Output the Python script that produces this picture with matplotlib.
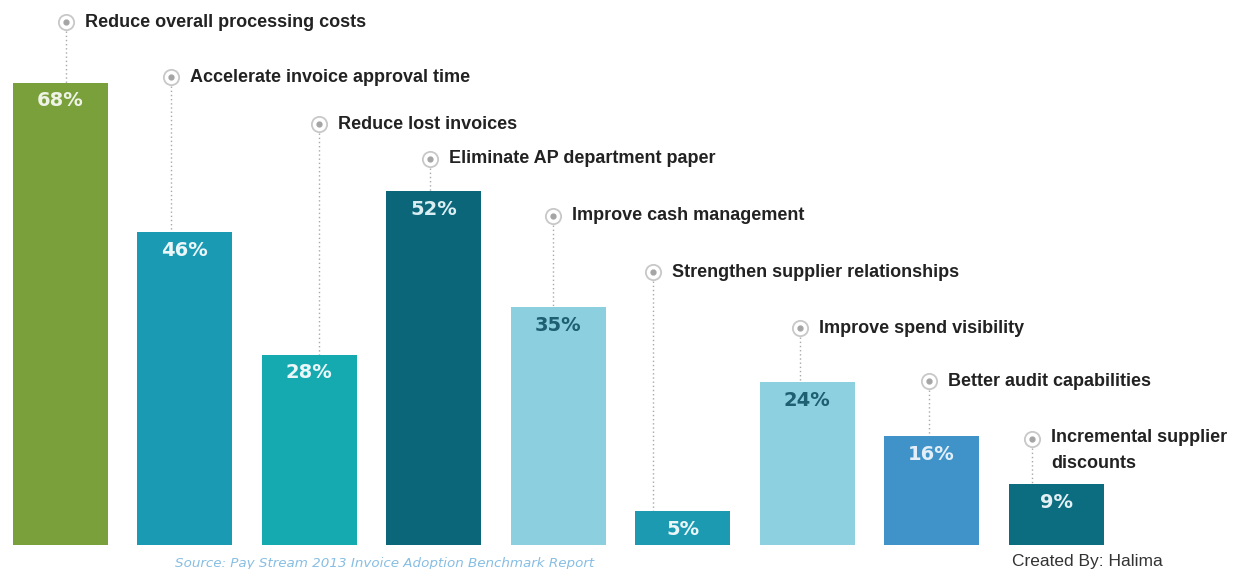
import matplotlib.pyplot as plt

# data
reasons = ["Reduce overall processing costs",
           "Accelerate invoice approval time",
           "Reduce lost invoices",
           "Eliminate AP department paper",
           "Improve cash management",
           "Strengthen supplier relationships",
           "Improve spend visibility",
           "Better audit capabilities",
           "Incremental supplier\ndiscounts"]
values = [68, 46, 28, 52, 35, 5, 24, 16, 9]
colors = ["#7aa03c", "#1a9bb3", "#15aab0", "#0b6679", "#8ccfdf",
          "#1b9ab2", "#8dd0e0", "#3f93c8", "#0d6d80"]
value_colors = ["#eef3e6", "#eaf6f8", "#eaf6f8", "#d9eef2", "#1e5f72",
                "#eaf6f8", "#1e5f72", "#e3eef8", "#e3f1f4"]

# callout layout (marker height in % units, x shift from bar centre)
label_y = [76.9, 68.8, 61.9, 56.8, 48.4, 40.1, 31.9, 24.1, 15.6]
label_dx = [0.05, -0.11, 0.08, -0.03, -0.04, -0.24, -0.06, -0.02, -0.19]

fig = plt.figure(figsize=(12.49, 5.69), dpi=100)
ax = fig.add_axes([0, 0, 1, 1])
ax.set_xlim(-0.482, 9.55)
ax.set_ylim(-3.53, 80.15)
ax.axis("off")

x = list(range(len(values)))
ax.bar(x, values, width=0.763, color=colors, zorder=2)

for i, v in enumerate(values):
    # percentage inside the bar top
    ax.text(i, v - 2.7, f"{v}%", ha="center", va="center", fontsize=14,
            fontweight="bold", color=value_colors[i], family="DejaVu Sans", zorder=4)

    mx = i + label_dx[i]
    my = label_y[i]
    # dotted leader from marker to bar
    ax.plot([mx, mx], [my - 1.3, v], ls=(0, (1, 2)), color="#a8a8a8", lw=1.0, zorder=1)
    ax.plot(mx, my, marker="o", ms=11, mfc="white", mec="#c8c8c8", mew=1.3, zorder=3)
    ax.plot(mx, my, marker="o", ms=3.5, mfc="#a5a5a5", mec="#a5a5a5", zorder=4)

    if "\n" in reasons[i]:
        ax.text(mx + 0.153, my + 1.4, reasons[i], ha="left", va="top", fontsize=13,
                fontweight="bold", color="#222222", family="Liberation Sans", linespacing=1.65)
    else:
        ax.text(mx + 0.153, my, reasons[i], ha="left", va="center", fontsize=13,
                fontweight="bold", color="#222222", family="Liberation Sans")

ax.text(0.924, -2.7, "Source: Pay Stream 2013 Invoice Adoption Benchmark Report",
        ha="left", va="center", fontsize=9.7, style="italic", color="#6aaedc", alpha=0.8)
ax.text(7.65, -2.4, "Created By: Halima", ha="left", va="center", fontsize=12.5,
        color="#333333", family="Liberation Sans")

fig.savefig("out.png", dpi=100)
